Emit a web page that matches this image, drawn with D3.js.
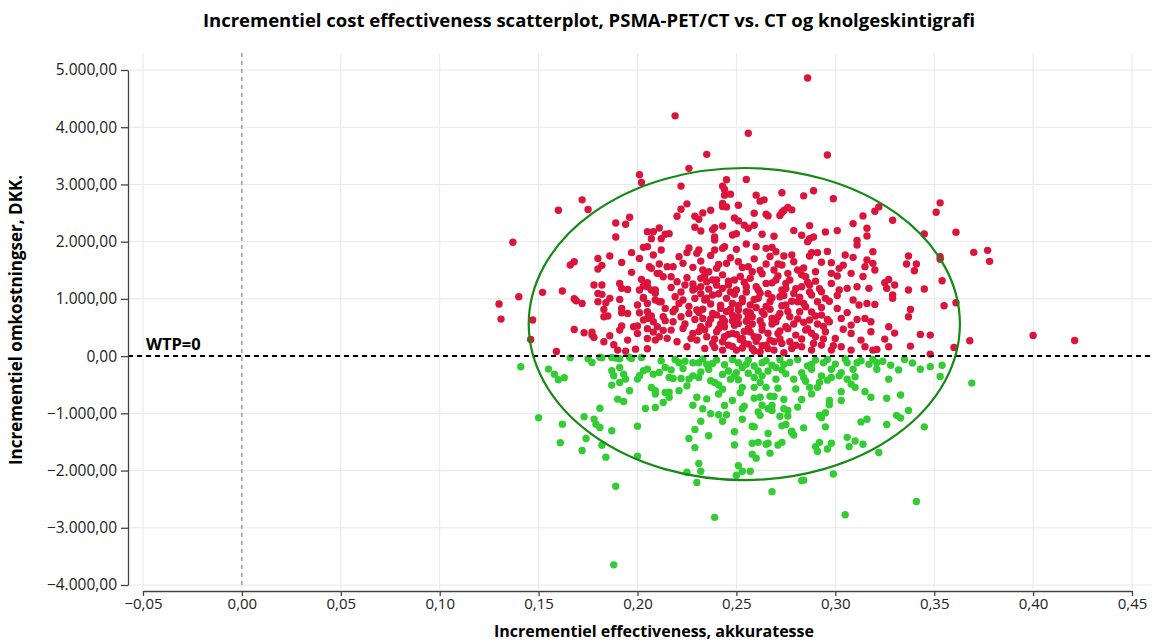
<!DOCTYPE html>
<html><head><meta charset="utf-8">
<script src="https://cdn.jsdelivr.net/npm/d3@7"></script>
<style>body{margin:0;background:#fff} svg{font-family:"Open Sans","Noto Sans",sans-serif}</style>
</head><body><svg id="chart" width="1156" height="642"></svg>
<script>
const chartTitle = "Incrementiel cost effectiveness scatterplot, PSMA-PET/CT vs. CT og knolgeskintigrafi";
const xTitle = "Incrementiel effectiveness, akkuratesse";
const yTitle = "Incrementiel omkostningser, DKK.";
const xTicks = [-0.05,0,0.05,0.10,0.15,0.20,0.25,0.30,0.35,0.40,0.45];
const yTicks = [-4000,-3000,-2000,-1000,0,1000,2000,3000,4000,5000];
const wtpLabel = "WTP=0";
const ellipseCenter = [0.254, 560];
const ellipseRadii = [0.109, 2727];

// [effect, cost] with cost > 0
const costIncrease = [
[0.201,3170],[0.202,3035],[0.172,2731],[0.160,2550],[0.175,2561],[0.189,2327],[0.196,2427],[0.194,2304],[0.189,2082],[0.205,2175],[0.208,2175],[0.211,2240],[0.207,2053],[0.212,2053],[0.214,2129],[0.137,1990],
[0.286,4860],[0.219,4199],[0.256,3895],[0.235,3526],[0.296,3515],[0.226,3281],[0.245,3082],[0.255,3088],[0.222,2971],[0.243,2971],[0.244,2912],[0.244,2813],[0.247,2830],[0.225,2661],[0.260,2813],[0.262,2708],[0.264,2731],[0.273,2854],[0.284,2801],[0.289,2889],[0.299,2749],[0.222,2567],[0.220,2444],[0.229,2444],[0.231,2392],[0.233,2503],[0.237,2550],[0.243,2667],[0.243,2614],[0.245,2608],[0.251,2637],[0.259,2497],[0.249,2415],[0.251,2363],[0.265,2480],[0.266,2450],[0.272,2456],[0.274,2544],[0.276,2596],[0.278,2556],[0.273,2509],[0.254,2287],[0.256,2234],[0.259,2287],[0.243,2275],[0.239,2246],[0.238,2211],[0.229,2251],[0.232,2187],[0.287,2281],[0.309,2316],[0.314,2450],[0.316,2234],[0.320,2532],[0.316,2099],[0.301,2193],[0.295,2170],[0.283,2111],[0.279,2193],[0.289,2082],[0.287,2053],[0.269,2094],[0.263,2129],[0.250,2140],[0.248,2117],[0.239,2082],[0.216,2140],[0.311,2023],
[0.329,2374],[0.353,2678],[0.351,2515],[0.345,2135],[0.361,2164],[0.322,2608],
[0.166,1592],[0.168,1650],[0.180,1708],[0.186,1749],[0.182,1586],[0.180,1522],[0.192,1638],[0.197,1808],[0.201,1708],[0.203,1901],[0.208,1767],[0.206,1563],[0.211,1609],[0.197,1464],[0.211,1446],[0.152,1114],[0.162,1137],[0.140,1038],[0.130,910],[0.131,647],[0.147,630],[0.146,292],[0.159,82],[0.168,1003],[0.169,968],[0.172,921],[0.168,466],[0.173,408],[0.177,367],[0.178,327],[0.177,420],[0.178,1242],[0.182,1242],[0.180,1096],[0.182,1079],[0.180,950],[0.184,933],[0.186,1009],[0.191,1271],[0.192,1184],[0.195,1166],[0.191,991],[0.183,816],[0.183,688],[0.185,700],[0.192,834],[0.192,758],[0.195,746],[0.192,525],[0.191,455],[0.186,356],[0.183,251],[0.188,198],[0.194,87],[0.199,122],[0.195,280],[0.190,105],[0.201,1155],[0.203,1225],[0.202,1341],[0.205,1283],[0.205,1213],[0.207,1155],[0.209,1155],[0.209,980],[0.203,1026],[0.200,892],[0.205,921],[0.201,758],[0.205,776],[0.203,630],[0.205,659],[0.208,600],[0.200,525],[0.198,513],[0.213,688],[0.200,397],[0.205,309],[0.209,280],[0.211,338],[0.205,128],[0.208,420],[0.210,513],[0.214,834],[0.211,950],[0.213,1388],[0.207,1534],[0.210,1446],[0.215,1563],[0.212,1854],[0.205,1913],
[0.221,1737],[0.225,1808],[0.230,1796],[0.231,1854],[0.239,1854],[0.239,2029],[0.243,1883],[0.244,1913],[0.250,1866],[0.255,1959],[0.260,1913],[0.265,1883],[0.268,1901],[0.270,1825],[0.274,1749],[0.278,1767],[0.287,1749],[0.288,1808],[0.291,1808],[0.286,2000],[0.298,1633],[0.305,1767],[0.309,1726],[0.311,1942],[0.316,1679],[0.319,1825],[0.218,1563],[0.223,1621],[0.228,1551],[0.233,1504],[0.236,1475],[0.240,1534],[0.245,1621],[0.251,1650],[0.256,1563],[0.258,1475],[0.265,1609],[0.269,1504],[0.273,1592],[0.276,1446],[0.281,1504],[0.285,1388],[0.290,1475],[0.298,1446],[0.302,1534],[0.308,1446],[0.311,1213],[0.317,1184],[0.315,1563],[0.319,1621],
[0.217,1388],[0.220,1300],[0.224,1242],[0.228,1155],[0.232,1359],[0.232,1213],[0.235,1300],[0.240,1329],[0.243,1184],[0.246,1242],[0.249,1329],[0.250,1155],[0.255,1213],[0.260,1213],[0.265,1271],[0.270,1329],[0.273,1155],[0.275,1271],[0.279,1096],[0.283,1213],[0.287,1242],[0.288,1067],[0.293,1125],[0.298,1271],[0.302,1155],[0.306,1184],[0.219,1038],[0.223,980],[0.229,1009],[0.234,980],[0.238,1067],[0.245,1009],[0.248,921],[0.253,1009],[0.257,892],[0.261,1009],[0.267,950],[0.272,1038],[0.275,892],[0.281,950],[0.285,863],[0.291,950],[0.295,1009],[0.301,834],[0.312,892],[0.316,921],
[0.218,776],[0.222,688],[0.218,600],[0.226,746],[0.230,805],[0.233,659],[0.238,746],[0.242,834],[0.243,659],[0.248,717],[0.251,805],[0.255,776],[0.258,688],[0.263,776],[0.268,659],[0.272,746],[0.277,688],[0.282,776],[0.287,630],[0.293,717],[0.297,600],[0.303,659],[0.308,542],[0.315,659],[0.318,600],[0.217,455],[0.223,484],[0.228,397],[0.232,513],[0.235,338],[0.240,425],[0.244,513],[0.248,397],[0.251,571],[0.253,309],[0.256,484],[0.259,338],[0.263,455],[0.267,280],[0.271,397],[0.275,513],[0.280,367],[0.285,455],[0.290,338],[0.295,425],[0.300,309],[0.308,397],[0.313,280],[0.318,425],[0.220,251],[0.225,163],[0.230,280],[0.234,134],[0.238,222],[0.243,105],[0.246,192],[0.250,105],[0.254,222],[0.258,134],[0.262,76],[0.265,192],[0.269,105],[0.273,222],[0.278,134],[0.283,163],[0.288,105],[0.293,192],[0.298,105],[0.303,163],[0.308,105],[0.315,163],[0.319,105],
[0.320,1504],[0.337,1749],[0.336,1609],[0.341,1609],[0.340,1492],[0.353,1737],[0.353,1691],[0.370,1813],[0.377,1848],[0.378,1656],[0.327,1341],[0.325,1283],[0.330,1242],[0.326,1184],[0.337,1155],[0.345,1172],[0.354,1318],[0.329,1067],[0.329,1009],[0.320,904],[0.355,880],[0.361,933],[0.338,816],[0.337,688],[0.327,513],[0.330,402],[0.325,297],[0.327,163],[0.321,117],[0.338,175],[0.343,379],[0.348,367],[0.368,268],[0.360,152],[0.348,35],[0.400,362],[0.421,274],
[0.226,870],[0.229,640],[0.231,430],[0.233,820],[0.236,560],[0.237,910],[0.239,300],[0.240,720],[0.241,480],[0.242,890],[0.243,250],[0.244,610],[0.246,380],[0.247,820],[0.248,170],[0.249,540],[0.251,690],[0.252,290],[0.253,950],[0.254,430],[0.255,610],[0.256,210],[0.257,760],[0.258,560],[0.259,90],[0.260,850],[0.261,330],[0.262,620],[0.263,180],[0.264,730],[0.266,400],[0.267,820],[0.268,560],[0.269,250],[0.271,690],[0.272,440],[0.274,60],[0.276,780],[0.277,250],[0.279,560],[0.281,650],[0.283,300],[0.284,920],[0.286,480],[0.288,770],[0.289,220],[0.291,560],[0.293,850],[0.294,300],[0.296,640],
[0.222,1120],[0.225,1370],[0.228,1260],[0.232,1090],[0.234,1410],[0.236,1170],[0.238,1330],[0.241,1090],[0.243,1420],[0.246,1310],[0.249,1080],[0.252,1390],[0.255,1120],[0.257,1360],[0.261,1160],[0.263,1440],[0.266,1090],[0.268,1280],[0.271,1400],[0.274,1060],[0.277,1330],[0.280,1180],[0.283,1420],[0.287,1120],[0.290,1310],
[0.212,950],[0.214,620],[0.215,310],[0.217,1200],[0.219,820],[0.213,450],[0.209,1100],[0.207,700],[0.205,480],[0.203,1010],
[0.221,920],[0.224,560],[0.227,310],[0.229,1180],[0.231,760],[0.234,460],[0.235,1010],[0.237,650],[0.239,150],[0.240,1240],[0.242,560],[0.244,340],[0.245,780],[0.247,1120],[0.248,620],[0.250,380],[0.251,880],[0.253,140],[0.254,1290],[0.256,680],[0.257,420],[0.259,990],[0.260,260],[0.262,1100],[0.263,540],[0.265,870],[0.266,130],[0.268,1020],[0.270,600],[0.272,300],[0.273,880],[0.275,1180],[0.276,480],[0.278,960],[0.280,190],[0.282,1030],[0.284,590],[0.286,1290],[0.288,400],[0.290,700],[0.292,1180],[0.294,520],[0.297,960],[0.299,180],[0.301,1060],[0.304,470],[0.306,760],[0.309,980],[0.311,640],[0.314,1390],
[0.226,1890],[0.232,1660],[0.237,1760],[0.241,1600],[0.247,1720],[0.253,1550],[0.259,1700],[0.262,1500],[0.267,1740],[0.271,1610],[0.279,1650],[0.284,1540],[0.293,1640],[0.296,1830],[0.301,1400],[0.304,1590]
];

// [effect, cost] with cost < 0
const costSaving = [
[0.166,-30],[0.175,-45],[0.182,-30],[0.189,-35],[0.191,-45],[0.197,-40],
[0.141,-187],[0.155,-227],[0.158,-315],[0.160,-414],[0.163,-379],[0.150,-1078],[0.162,-1189],[0.161,-1515],[0.173,-1061],[0.178,-1101],[0.179,-1189],[0.181,-1247],[0.174,-1439],[0.172,-1649],[0.182,-1556],[0.184,-1766],[0.187,-1305],[0.181,-909],[0.200,-1224],[0.200,-1748],[0.189,-2273],[0.188,-3648],[0.177,-111],[0.187,-256],[0.188,-344],[0.191,-198],[0.193,-315],[0.194,-402],[0.191,-460],[0.187,-507],[0.196,-606],[0.190,-752],[0.193,-793],[0.200,-402],[0.201,-344],[0.203,-256],[0.205,-227],[0.208,-315],[0.211,-286],[0.214,-198],[0.212,-82],[0.207,-548],[0.209,-606],[0.209,-664],[0.214,-635],[0.213,-810],[0.209,-897],[0.204,-915],[0.181,-20],[0.187,-25],[0.196,-20],[0.202,-25],
[0.217,-241],[0.221,-115],[0.223,-218],[0.216,-374],[0.218,-391],[0.222,-391],[0.216,-632],[0.221,-604],[0.216,-719],[0.226,-402],[0.228,-345],[0.231,-374],[0.232,-276],[0.228,-115],[0.231,-115],[0.235,-144],[0.238,-127],[0.236,-230],[0.237,-431],[0.239,-460],[0.241,-506],[0.241,-661],[0.230,-719],[0.235,-748],[0.233,-920],[0.237,-1006],[0.241,-1024],[0.245,-1024],[0.244,-863],[0.248,-776],[0.246,-259],[0.247,-403],[0.249,-345],[0.251,-414],[0.250,-288],[0.253,-546],[0.253,-920],[0.254,-874],[0.253,-1104],[0.243,-1139],[0.232,-1139],[0.229,-1282],[0.226,-1438],[0.229,-1599],[0.236,-1392],[0.231,-1875],[0.232,-2013],[0.230,-2208],[0.225,-2030],[0.239,-2818],[0.249,-1323],[0.249,-1553],[0.251,-1915],[0.250,-2082],[0.253,-2013],[0.257,-2013],[0.258,-1714],[0.260,-1783],[0.258,-1524],[0.261,-1507],[0.265,-1541],[0.267,-1696],[0.266,-1351],[0.258,-1225],[0.259,-1236],[0.261,-978],[0.262,-1035],[0.266,-920],[0.268,-949],[0.268,-863],[0.259,-736],[0.262,-719],[0.267,-702],[0.269,-707],[0.259,-546],[0.262,-460],[0.265,-546],[0.259,-374],[0.263,-345],[0.266,-259],[0.270,-403],[0.270,-201],[0.273,-241],[0.274,-144],[0.255,-144],[0.259,-173],[0.263,-115],[0.251,-115],[0.274,-759],[0.274,-920],[0.276,-949],[0.272,-1052],[0.276,-1047],[0.275,-1196],[0.273,-1219],[0.273,-1507],[0.271,-1553],[0.266,-1524],[0.278,-1334],[0.279,-1380],[0.278,-1311],[0.281,-891],[0.283,-759],[0.284,-1254],[0.268,-2369],[0.283,-2174],[0.284,-2168],[0.280,-575],[0.279,-403],[0.283,-288],[0.284,-374],[0.287,-546],[0.291,-546],[0.292,-460],[0.293,-345],[0.288,-230],[0.288,-144],[0.294,-115],[0.298,-230],[0.298,-374],[0.302,-345],[0.303,-288],[0.306,-403],[0.308,-489],[0.310,-546],[0.303,-621],[0.303,-776],[0.297,-776],[0.297,-851],[0.292,-1035],[0.293,-1075],[0.295,-989],[0.295,-1236],[0.290,-1581],[0.291,-1668],[0.292,-1507],[0.296,-1622],[0.298,-1524],[0.306,-1420],[0.307,-1581],[0.310,-1484],[0.314,-1541],[0.299,-2059],[0.305,-2772],[0.313,-1150],[0.316,-1104],[0.315,-621],[0.318,-719],[0.317,-144],[0.311,-115],[0.306,-115],
[0.321,-115],[0.321,-230],[0.332,-241],[0.327,-403],[0.343,-230],[0.348,-184],[0.354,-161],[0.353,-357],[0.369,-472],[0.326,-736],[0.333,-679],[0.337,-949],[0.331,-1035],[0.333,-1081],[0.326,-1196],[0.345,-1236],[0.322,-1685],[0.341,-2542],
[0.219,-60],[0.224,-90],[0.233,-50],[0.240,-70],[0.244,-150],[0.248,-60],[0.253,-200],[0.256,-70],[0.261,-260],[0.265,-80],[0.268,-160],[0.272,-60],[0.277,-110],[0.281,-60],[0.286,-170],[0.290,-70],[0.296,-60],[0.300,-140],[0.305,-50],[0.309,-230],[0.313,-80],[0.319,-60],[0.324,-90],[0.328,-160],[0.335,-60],[0.339,-120],[0.243,-320],[0.256,-300],[0.275,-310],[0.285,-440],[0.296,-420],[0.252,-640],[0.243,-580],[0.271,-560],[0.288,-660],[0.263,-860],[0.225,-520],[0.228,-860],[0.310,-360]
];

const svg = d3.select("#chart");
const loc = d3.formatLocale({decimal:",", thousands:".", grouping:[3], currency:["",""], minus:"\u2212"});
const fy = loc.format(",.2f"), fx = loc.format(".2f");

const x = d3.scaleLinear().domain([-0.05,0.45]).range([143,1132]);
const y = d3.scaleLinear().domain([-4000,5000]).range([585,70]);
const gridTop = 53, gridBottom = 589, gridLeft = 128, gridRight = 1152;

// grid
svg.append("g").selectAll("line.v").data(xTicks).join("line")
  .attr("x1",d=>x(d)).attr("x2",d=>x(d)).attr("y1",gridTop).attr("y2",gridBottom)
  .attr("stroke","#e8e8e8").attr("stroke-width",1);
svg.append("g").selectAll("line.h").data(yTicks).join("line")
  .attr("x1",gridLeft).attr("x2",gridRight).attr("y1",d=>y(d)).attr("y2",d=>y(d))
  .attr("stroke","#e8e8e8").attr("stroke-width",1);

// x=0 dashed line
svg.append("line").attr("x1",x(0)).attr("x2",x(0)).attr("y1",gridTop).attr("y2",gridBottom)
  .attr("stroke","#777").attr("stroke-width",1).attr("stroke-dasharray","4,4");

// points
svg.append("g").selectAll("circle").data(costIncrease).join("circle")
  .attr("cx",d=>x(d[0])).attr("cy",d=>y(d[1])).attr("r",3.7).attr("fill","#DC143C");
svg.append("g").selectAll("circle").data(costSaving).join("circle")
  .attr("cx",d=>x(d[0])).attr("cy",d=>y(d[1])).attr("r",3.7).attr("fill","#32CD32");

// WTP line
svg.append("line").attr("x1",gridLeft).attr("x2",gridRight).attr("y1",y(0)).attr("y2",y(0))
  .attr("stroke","#000").attr("stroke-width",2).attr("stroke-dasharray","5,4");
svg.append("text").attr("x",x(-0.05)+3).attr("y",y(0)-6).text(wtpLabel)
  .attr("font-size",16.5).attr("font-weight","bold").attr("fill","#000");

// ellipse
svg.append("ellipse").attr("cx",x(ellipseCenter[0])).attr("cy",y(ellipseCenter[1]))
  .attr("rx",x(ellipseCenter[0]+ellipseRadii[0])-x(ellipseCenter[0]))
  .attr("ry",y(ellipseCenter[1])-y(ellipseCenter[1]+ellipseRadii[1]))
  .attr("fill","none").attr("stroke","#148a14").attr("stroke-width",2.2);

// axes
const yAxis = svg.append("g").attr("transform","translate(128,0)")
  .call(d3.axisLeft(y).tickValues(yTicks).tickFormat(fy).tickSize(7).tickSizeOuter(0).tickPadding(4));
const xAxis = svg.append("g").attr("transform","translate(0,591)")
  .call(d3.axisBottom(x).tickValues(xTicks).tickFormat(fx).tickSize(5).tickSizeOuter(0).tickPadding(2));
[yAxis,xAxis].forEach(a=>{
  a.selectAll("path,line").attr("stroke","#444").attr("stroke-width",1.3);
  a.selectAll("text").attr("fill","#222").attr("font-family",'"Open Sans",sans-serif');
});
yAxis.selectAll("text").attr("font-size",15.5);
xAxis.selectAll("text").attr("font-size",15);

// titles
svg.append("text").attr("x",589).attr("y",27).attr("text-anchor","middle")
  .attr("font-size",18.5).attr("font-weight","bold").text(chartTitle);
svg.append("text").attr("x",654).attr("y",636.5).attr("text-anchor","middle")
  .attr("font-size",16).attr("font-weight","bold").text(xTitle);
svg.append("text").attr("transform","translate(22,320) rotate(-90)").attr("text-anchor","middle")
  .attr("font-size",17).attr("font-weight","bold").text(yTitle);
</script></body></html>
